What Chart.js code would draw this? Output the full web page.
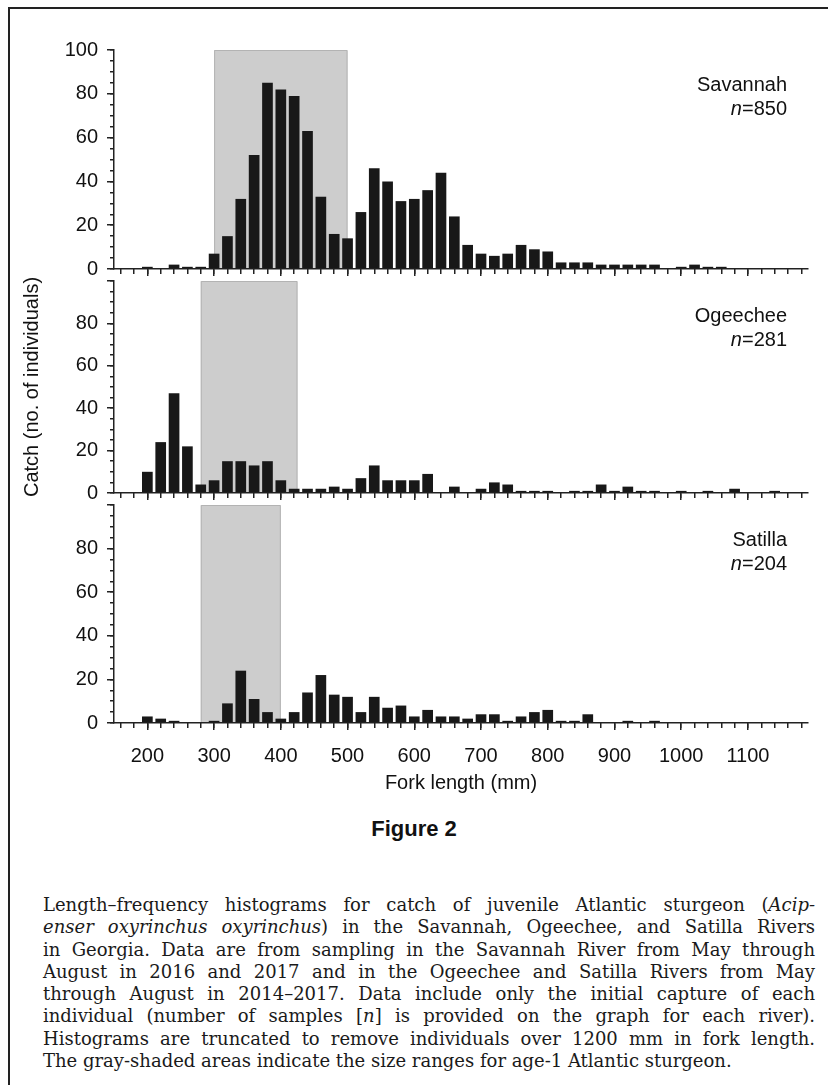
<!DOCTYPE html>
<html>
<head>
<meta charset="utf-8">
<script src="https://cdn.jsdelivr.net/npm/chart.js"></script>
<style>
  body { margin: 0; background: #fff; }
  #page { position: relative; width: 828px; height: 1085px; overflow: hidden; background: #fff; }
  #frame { position: absolute; left: 8px; top: 7px; width: 900px; height: 1200px; border-left: 2.5px solid #222; border-top: 2px solid #222; }
  canvas { position: absolute; left: 0; }
  #fig { position: absolute; left: 8px; width: 812px; top: 816px; text-align: center; font: bold 22px "Liberation Sans", Arial, sans-serif; color: #111; }
  #caption { position: absolute; left: 43px; top: 894px; width: 772px; font-family: "DejaVu Serif", serif; font-size: 18px; line-height: 22.3px; color: #1a1a1a; }
  #caption div { white-space: nowrap; text-align: justify; text-align-last: justify; }
  #caption div.last { text-align-last: left; }
</style>
</head>
<body>
<div id="page">
  <div id="frame"></div>
  <canvas id="satilla" width="828" height="319" style="top:484px; z-index:1"></canvas>
  <canvas id="ogeechee" width="828" height="254" style="top:260px; z-index:2"></canvas>
  <canvas id="savannah" width="828" height="290" style="top:0px; z-index:3"></canvas>
  <div id="fig">Figure 2</div>
  <div id="caption">
    <div>Length–frequency histograms for catch of juvenile Atlantic sturgeon (<i>Acip-</i></div>
    <div><i>enser oxyrinchus oxyrinchus</i>) in the Savannah, Ogeechee, and Satilla Rivers</div>
    <div>in Georgia. Data are from sampling in the Savannah River from May through</div>
    <div>August in 2016 and 2017 and in the Ogeechee and Satilla Rivers from May</div>
    <div>through August in 2014–2017. Data include only the initial capture of each</div>
    <div>individual (number of samples [<i>n</i>] is provided on the graph for each river).</div>
    <div>Histograms are truncated to remove individuals over 1200 mm in fork length.</div>
    <div class="last">The gray-shaded areas indicate the size ranges for age-1 Atlantic sturgeon.</div>
  </div>
</div>
<script>
// bin centres (mm) and catch per bin
const forkLengths = [200, 220, 240, 260, 280, 300, 320, 340, 360, 380,
  400, 420, 440, 460, 480, 500, 520, 540, 560, 580,
  600, 620, 640, 660, 680, 700, 720, 740, 760, 780,
  800, 820, 840, 860, 880, 900, 920, 940, 960, 980,
  1000, 1020, 1040, 1060, 1080, 1100, 1120, 1140, 1160]

const savannahCatch = [1, 0, 2, 1, 1, 7, 15, 32, 52, 85,
  82, 79, 63, 33, 16, 14, 26, 46, 40, 31,
  32, 36, 44, 24, 11, 7, 6, 7, 11, 9,
  8, 3, 3, 3, 2, 2, 2, 2, 2, 0,
  1, 2, 1, 1, 0, 0, 0, 0, 0]

const ogeecheeCatch = [10, 24, 47, 22, 4, 6, 15, 15, 13, 15,
  6, 2, 2, 2, 3, 2, 7, 13, 6, 6,
  6, 9, 0, 3, 0, 2, 5, 4, 1, 1,
  1, 0, 1, 1, 4, 1, 3, 1, 1, 0,
  1, 0, 1, 0, 2, 0, 0, 1, 0]

const satillaCatch = [3, 2, 1, 0, 0, 1, 9, 24, 11, 5,
  2, 5, 14, 22, 13, 12, 5, 12, 7, 8,
  3, 6, 3, 3, 2, 4, 4, 1, 3, 5,
  6, 1, 1, 4, 0, 0, 1, 0, 1, 0,
  0, 0, 0, 0, 0, 0, 0, 0, 0]

const riverNames = ['Savannah', 'Ogeechee', 'Satilla']
const sampleSizes = [850, 281, 204]
// age-1 size ranges (mm)
const ageOneRanges = [[300, 500], [280, 425], [280, 400]]

const xLabelValues = [200, 300, 400, 500, 600, 700, 800, 900, 1000, 1100]
const yLabelValues = [0, 20, 40, 60, 80, 100]

const xMin = 150, xMax = 1190
const sansFamily = '"Liberation Sans", Arial, Helvetica, sans-serif'
const axisFont = {family: sansFamily, size: 20}
const ink = '#222'

// minor tick marks every 20 mm
const xMinorTicks = []
for (let v = 160; v < xMax; v += 20) xMinorTicks.push(v)

function shadePlugin(i) {
  return {
    id: 'shade' + i,
    beforeDatasetsDraw(chart) {
      const ctx = chart.ctx, x = chart.scales.x, y = chart.scales.y
      const l = x.getPixelForValue(ageOneRanges[i][0])
      const r = x.getPixelForValue(ageOneRanges[i][1])
      const t = y.getPixelForValue(100)
      const b = y.getPixelForValue(0) - 1
      ctx.save()
      ctx.fillStyle = '#cdcdcd'
      ctx.fillRect(l, t, r - l, b - t)
      ctx.strokeStyle = '#b3b3b3'
      ctx.lineWidth = 1
      ctx.beginPath()
      ctx.moveTo(l + 0.5, b); ctx.lineTo(l + 0.5, t + 0.5); ctx.lineTo(r - 0.5, t + 0.5); ctx.lineTo(r - 0.5, b)
      ctx.stroke()
      ctx.restore()
    }
  }
}

function labelPlugin(i) {
  return {
    id: 'river' + i,
    afterDatasetsDraw(chart) {
      const ctx = chart.ctx, area = chart.chartArea
      const xr = area.right - 21
      ctx.save()
      ctx.fillStyle = '#111'
      ctx.textAlign = 'right'
      ctx.textBaseline = 'middle'
      ctx.font = '20px ' + sansFamily
      ctx.fillText(riverNames[i], xr, area.top + 35)
      const rest = '=' + sampleSizes[i]
      ctx.fillText(rest, xr, area.top + 59)
      const w = ctx.measureText(rest).width
      ctx.font = 'italic 20px ' + sansFamily
      ctx.fillText('n', xr - w, area.top + 59)
      ctx.restore()
    }
  }
}

function tickGrid(len) {
  return {offset: false, drawOnChartArea: false, drawTicks: true, tickLength: len, tickWidth: 1.5, tickColor: ink, lineWidth: 1.5, color: ink}
}

function makePanel(id, values, i, o) {
  const ctx = document.getElementById(id).getContext('2d')
  return new Chart(ctx, {
    type: 'bar',
    data: {
      datasets: [{
        data: forkLengths.map((v, k) => ({x: v, y: values[k]})),
        backgroundColor: '#181818',
        borderWidth: 0,
        barPercentage: 0.8,
        categoryPercentage: 1.0
      }]
    },
    options: {
      responsive: false,
      animation: false,
      layout: {padding: {top: o.padTop, right: 20, bottom: 0, left: 0}},
      plugins: {legend: {display: false}, tooltip: {enabled: false}},
      scales: {
        // major x ticks with labels
        x: {
          type: 'linear', position: 'bottom', weight: 1, offset: false,
          min: xMin, max: xMax,
          afterBuildTicks: s => { s.ticks = xLabelValues.map(v => ({value: v})) },
          afterFit: s => { s.height = o.xHeight },
          ticks: {
            autoSkip: false, maxRotation: 0,
            display: o.xLabels, padding: 14, font: axisFont, color: '#111',
            callback: v => String(v)
          },
          grid: tickGrid(7),
          border: {color: ink, width: 1.5},
          title: {
            display: o.xLabels, text: 'Fork length (mm)', font: axisFont, color: '#111',
            padding: {top: 0, bottom: 8}
          }
        },
        // minor x ticks
        xMinor: {
          type: 'linear', axis: 'x', position: 'bottom', weight: 0, offset: false,
          min: xMin, max: xMax,
          afterBuildTicks: s => { s.ticks = xMinorTicks.map(v => ({value: v})) },
          afterFit: s => { s.height = 0 },
          ticks: {autoSkip: false, display: false},
          grid: tickGrid(5),
          border: {display: false}
        },
        y: {
          type: 'linear', position: 'left', weight: 1, offset: false,
          min: 0, max: 100,
          afterFit: s => { s.width = 114 },
          ticks: {
            stepSize: 20, autoSkip: false, padding: 9, font: axisFont, color: '#111',
            callback: v => (yLabelValues.includes(v) && (v < 100 || o.showTop)) ? String(v) : ''
          },
          grid: tickGrid(7),
          border: {color: ink, width: 1.5},
          title: {
            display: o.yTitle, text: 'Catch (no. of individuals)', font: axisFont, color: '#111',
            padding: {top: 20, bottom: 0}
          }
        },
        // minor y ticks every 5
        yMinor: {
          type: 'linear', axis: 'y', position: 'left', weight: 0, offset: false,
          min: 0, max: 100,
          afterFit: s => { s.width = 0 },
          ticks: {stepSize: 5, autoSkip: false, display: false},
          grid: tickGrid(4),
          border: {display: false}
        }
      }
    },
    plugins: [shadePlugin(i), labelPlugin(i)]
  })
}

makePanel('satilla', satillaCatch, 2, {padTop: 15, xHeight: 80, xLabels: true, showTop: false, yTitle: false})
makePanel('ogeechee', ogeecheeCatch, 1, {padTop: 15, xHeight: 15, xLabels: false, showTop: false, yTitle: true})
makePanel('savannah', savannahCatch, 0, {padTop: 50, xHeight: 15, xLabels: false, showTop: true, yTitle: false})
</script>
</body>
</html>
